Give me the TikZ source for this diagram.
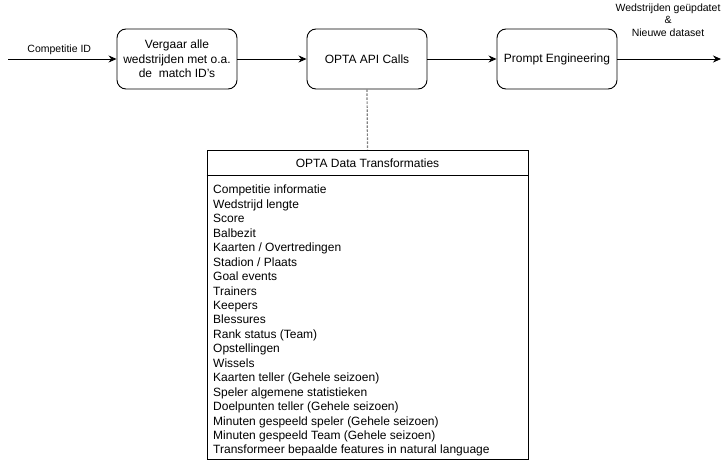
\documentclass[tikz,border=0pt]{standalone}
\usepackage{fontspec}
\setmainfont{Liberation Sans}
\usepackage{tikz}
\usetikzlibrary{arrows.meta,positioning}
\tikzset{
    step-box/.style = {draw=black, fill=white, line width=0.9pt, rectangle, rounded corners=9pt, minimum width=120pt, minimum height=60pt, align=center, font=\fontsize{12}{14.5}\selectfont},
    flow-arrow/.style = {draw=black, line width=0.9pt, -{Stealth[length=8pt,width=7pt]}},
    small-label/.style = {font=\fontsize{10.5}{12.5}\selectfont, align=center},
    list-box/.style = {draw=black, line width=0.9pt, rectangle, minimum width=321pt, minimum height=309pt},
}

\begin{document}
\begin{tikzpicture}[x=1pt,y=-1pt]
\useasboundingbox (0,0) rectangle (726,460);
% main flow
\node [step-box] (collect) at (177,59) {Vergaar alle\\wedstrijden met o.a.\\de\ \ match ID's};
\node [step-box] (api) at (367,59) {OPTA API Calls};
\node [step-box] (prompt) at (557,59) {Prompt Engineering};
\coordinate (in) at (8,59);
\coordinate (out) at (721,59);
\draw [flow-arrow] (in) -- node[small-label, above=1pt, xshift=-3pt] (inlabel) {Competitie ID} (collect);
\draw [flow-arrow] (collect) -- (api);
\draw [flow-arrow] (api) -- (prompt);
\draw [flow-arrow] (prompt) -- (out);
\node [small-label] (outlabel) at (668,20) {Wedstrijden geüpdatet\\\&\\Nieuwe dataset};

% transformaties
\node [list-box] (trans) at (367.5,304.5) {};
\node [font=\fontsize{12}{14.5}\selectfont] (transtitle) at (367.5,163) {OPTA Data Transformaties};
\draw [line width=0.9pt] ([yshift=-26pt]trans.north west) -- ([yshift=-26pt]trans.north east);
\node [anchor=north west, inner sep=0pt, align=left, font=\fontsize{12}{14.45}\selectfont] (translist) at (213,185) {%
    Competitie informatie\\
    Wedstrijd lengte\\
    Score\\
    Balbezit\\
    Kaarten / Overtredingen\\
    Stadion / Plaats\\
    Goal events\\
    Trainers\\
    Keepers\\
    Blessures\\
    Rank status (Team)\\
    Opstellingen\\
    Wissels\\
    Kaarten teller (Gehele seizoen)\\
    Speler algemene statistieken\\
    Doelpunten teller (Gehele seizoen)\\
    Minuten gespeeld speler (Gehele seizoen)\\
    Minuten gespeeld Team (Gehele seizoen)\\
    Transformeer bepaalde features in natural language};
\draw [gray, line width=1.2pt, dash pattern=on 2.5pt off 1.5pt] (api.south) -- (trans.north);
\end{tikzpicture}
\end{document}
